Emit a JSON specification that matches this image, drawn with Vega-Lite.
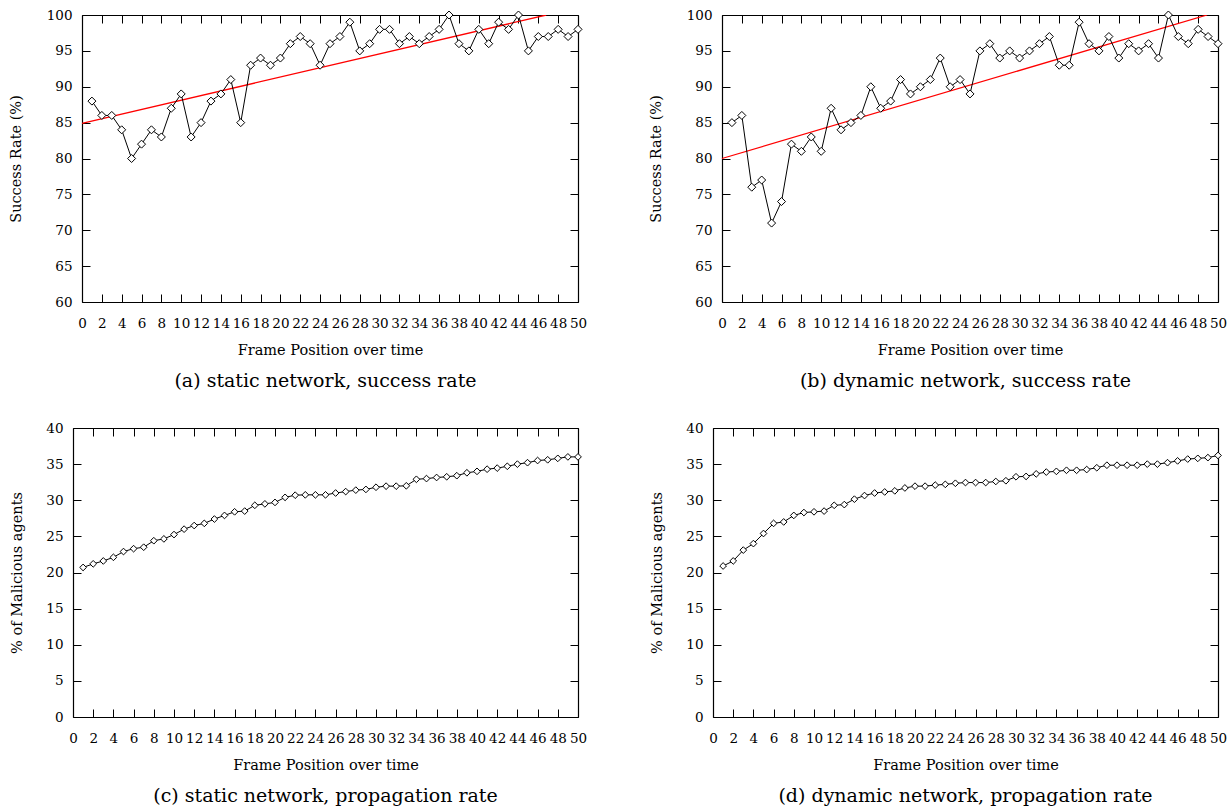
{
  "$schema": "https://vega.github.io/schema/vega-lite/v6.json",
  "padding": {"left": 8, "top": 8, "right": 2, "bottom": 0},
  "background": "white",
  "config": {
    "font": "DejaVu Serif",
    "view": {"stroke": null},
    "axis": {
      "grid": false,
      "domain": true,
      "domainColor": "black",
      "domainWidth": 1.2,
      "tickColor": "black",
      "tickWidth": 1,
      "tickSize": -8,
      "labelColor": "black",
      "labelFont": "DejaVu Serif",
      "labelFontSize": 13.5,
      "titleFont": "DejaVu Serif",
      "titleFontSize": 14.5,
      "titleFontWeight": "normal",
      "titleColor": "black",
      "labelOverlap": false,
      "labelFlush": false
    },
    "axisX": {"labelPadding": 22, "titlePadding": 14},
    "axisY": {"labelPadding": 18, "titlePadding": 21},
    "title": {"font": "DejaVu Serif", "fontSize": 19, "fontWeight": "normal", "color": "black"}
  },
  "datasets": {
    "a": [
      {"x":1,"y":88},{"x":2,"y":86},{"x":3,"y":86},{"x":4,"y":84},{"x":5,"y":80},{"x":6,"y":82},{"x":7,"y":84},{"x":8,"y":83},{"x":9,"y":87},{"x":10,"y":89},
      {"x":11,"y":83},{"x":12,"y":85},{"x":13,"y":88},{"x":14,"y":89},{"x":15,"y":91},{"x":16,"y":85},{"x":17,"y":93},{"x":18,"y":94},{"x":19,"y":93},{"x":20,"y":94},
      {"x":21,"y":96},{"x":22,"y":97},{"x":23,"y":96},{"x":24,"y":93},{"x":25,"y":96},{"x":26,"y":97},{"x":27,"y":99},{"x":28,"y":95},{"x":29,"y":96},{"x":30,"y":98},
      {"x":31,"y":98},{"x":32,"y":96},{"x":33,"y":97},{"x":34,"y":96},{"x":35,"y":97},{"x":36,"y":98},{"x":37,"y":100},{"x":38,"y":96},{"x":39,"y":95},{"x":40,"y":98},
      {"x":41,"y":96},{"x":42,"y":99},{"x":43,"y":98},{"x":44,"y":100},{"x":45,"y":95},{"x":46,"y":97},{"x":47,"y":97},{"x":48,"y":98},{"x":49,"y":97},{"x":50,"y":98}
    ],
    "b": [
      {"x":1,"y":85},{"x":2,"y":86},{"x":3,"y":76},{"x":4,"y":77},{"x":5,"y":71},{"x":6,"y":74},{"x":7,"y":82},{"x":8,"y":81},{"x":9,"y":83},{"x":10,"y":81},
      {"x":11,"y":87},{"x":12,"y":84},{"x":13,"y":85},{"x":14,"y":86},{"x":15,"y":90},{"x":16,"y":87},{"x":17,"y":88},{"x":18,"y":91},{"x":19,"y":89},{"x":20,"y":90},
      {"x":21,"y":91},{"x":22,"y":94},{"x":23,"y":90},{"x":24,"y":91},{"x":25,"y":89},{"x":26,"y":95},{"x":27,"y":96},{"x":28,"y":94},{"x":29,"y":95},{"x":30,"y":94},
      {"x":31,"y":95},{"x":32,"y":96},{"x":33,"y":97},{"x":34,"y":93},{"x":35,"y":93},{"x":36,"y":99},{"x":37,"y":96},{"x":38,"y":95},{"x":39,"y":97},{"x":40,"y":94},
      {"x":41,"y":96},{"x":42,"y":95},{"x":43,"y":96},{"x":44,"y":94},{"x":45,"y":100},{"x":46,"y":97},{"x":47,"y":96},{"x":48,"y":98},{"x":49,"y":97},{"x":50,"y":96}
    ],
    "c": [
      {"x":1,"y":20.7},{"x":2,"y":21.2},{"x":3,"y":21.6},{"x":4,"y":22.1},{"x":5,"y":22.9},{"x":6,"y":23.3},{"x":7,"y":23.5},{"x":8,"y":24.4},{"x":9,"y":24.65},{"x":10,"y":25.25},
      {"x":11,"y":26.0},{"x":12,"y":26.5},{"x":13,"y":26.8},{"x":14,"y":27.4},{"x":15,"y":27.9},{"x":16,"y":28.4},{"x":17,"y":28.5},{"x":18,"y":29.3},{"x":19,"y":29.5},{"x":20,"y":29.7},
      {"x":21,"y":30.4},{"x":22,"y":30.7},{"x":23,"y":30.75},{"x":24,"y":30.75},{"x":25,"y":30.75},{"x":26,"y":31.0},{"x":27,"y":31.2},{"x":28,"y":31.4},{"x":29,"y":31.5},{"x":30,"y":31.8},
      {"x":31,"y":31.95},{"x":32,"y":31.95},{"x":33,"y":32.0},{"x":34,"y":32.9},{"x":35,"y":33.0},{"x":36,"y":33.15},{"x":37,"y":33.25},{"x":38,"y":33.4},{"x":39,"y":33.8},{"x":40,"y":34.0},
      {"x":41,"y":34.3},{"x":42,"y":34.45},{"x":43,"y":34.7},{"x":44,"y":35.0},{"x":45,"y":35.2},{"x":46,"y":35.5},{"x":47,"y":35.6},{"x":48,"y":35.8},{"x":49,"y":36.0},{"x":50,"y":36.0}
    ],
    "d": [
      {"x":1,"y":20.9},{"x":2,"y":21.6},{"x":3,"y":23.1},{"x":4,"y":24.0},{"x":5,"y":25.4},{"x":6,"y":26.8},{"x":7,"y":27.0},{"x":8,"y":27.9},{"x":9,"y":28.3},{"x":10,"y":28.4},
      {"x":11,"y":28.5},{"x":12,"y":29.3},{"x":13,"y":29.4},{"x":14,"y":30.15},{"x":15,"y":30.65},{"x":16,"y":31.0},{"x":17,"y":31.15},{"x":18,"y":31.3},{"x":19,"y":31.7},{"x":20,"y":31.95},
      {"x":21,"y":31.95},{"x":22,"y":32.1},{"x":23,"y":32.2},{"x":24,"y":32.35},{"x":25,"y":32.45},{"x":26,"y":32.45},{"x":27,"y":32.45},{"x":28,"y":32.6},{"x":29,"y":32.7},{"x":30,"y":33.25},
      {"x":31,"y":33.3},{"x":32,"y":33.65},{"x":33,"y":33.9},{"x":34,"y":34.0},{"x":35,"y":34.15},{"x":36,"y":34.15},{"x":37,"y":34.25},{"x":38,"y":34.5},{"x":39,"y":34.85},{"x":40,"y":34.85},
      {"x":41,"y":34.85},{"x":42,"y":34.85},{"x":43,"y":35.0},{"x":44,"y":35.0},{"x":45,"y":35.2},{"x":46,"y":35.45},{"x":47,"y":35.7},{"x":48,"y":35.8},{"x":49,"y":35.9},{"x":50,"y":36.2}
    ],
    "ta": [{"x":0,"y":84.9},{"x":46.8,"y":100}],
    "tb": [{"x":0,"y":80.0},{"x":48.9,"y":100}]
  },
  "columns": 2,
  "align": "each",
  "spacing": {"row": 30, "column": 61},
  "concat": [
    {
      "width": 505, "height": 287,
      "title": {"text": "(a) static network, success rate", "orient": "bottom", "offset": 15},
      "layer": [
        {"data": {"name": "ta"}, "mark": {"type": "line", "color": "#ff0000", "strokeWidth": 1.3, "clip": true},
         "encoding": {
           "x": {"field": "x", "type": "quantitative", "scale": {"domain": [0, 50], "range": [9, 505], "nice": false}, "axis": {"orient": "bottom", "title": "Frame Position over time", "values": [0,2,4,6,8,10,12,14,16,18,20,22,24,26,28,30,32,34,36,38,40,42,44,46,48,50]}},
           "y": {"field": "y", "type": "quantitative", "scale": {"domain": [60, 100], "nice": false, "zero": false}, "axis": {"orient": "left", "offset": -9, "title": "Success Rate (%)", "titlePadding": 23, "values": [60,65,70,75,80,85,90,95,100]}}
         }},
        {"data": {"name": "a"}, "mark": {"type": "line", "color": "black", "strokeWidth": 1},
         "encoding": {
           "x": {"field": "x", "type": "quantitative", "axis": null},
           "y": {"field": "y", "type": "quantitative", "axis": null}
         }},
        {"data": {"name": "a"}, "mark": {"type": "point", "shape": "diamond", "filled": true, "fill": "white", "stroke": "black", "strokeWidth": 1, "size": 64, "opacity": 1},
         "encoding": {
           "x": {"field": "x", "type": "quantitative", "axis": {"orient": "top", "labels": false, "title": null, "values": [0,2,4,6,8,10,12,14,16,18,20,22,24,26,28,30,32,34,36,38,40,42,44,46,48,50]}},
           "y": {"field": "y", "type": "quantitative", "axis": {"orient": "right", "labels": false, "title": null, "values": [60,65,70,75,80,85,90,95,100]}}
         }}
      ],
      "resolve": {"axis": {"x": "independent", "y": "independent"}}
    },
    {
      "width": 505, "height": 287,
      "title": {"text": "(b) dynamic network, success rate", "orient": "bottom", "offset": 15},
      "layer": [
        {"data": {"name": "tb"}, "mark": {"type": "line", "color": "#ff0000", "strokeWidth": 1.3, "clip": true},
         "encoding": {
           "x": {"field": "x", "type": "quantitative", "scale": {"domain": [0, 50], "range": [9, 505], "nice": false}, "axis": {"orient": "bottom", "title": "Frame Position over time", "values": [0,2,4,6,8,10,12,14,16,18,20,22,24,26,28,30,32,34,36,38,40,42,44,46,48,50]}},
           "y": {"field": "y", "type": "quantitative", "scale": {"domain": [60, 100], "nice": false, "zero": false}, "axis": {"orient": "left", "offset": -9, "title": "Success Rate (%)", "titlePadding": 23, "values": [60,65,70,75,80,85,90,95,100]}}
         }},
        {"data": {"name": "b"}, "mark": {"type": "line", "color": "black", "strokeWidth": 1},
         "encoding": {
           "x": {"field": "x", "type": "quantitative", "axis": null},
           "y": {"field": "y", "type": "quantitative", "axis": null}
         }},
        {"data": {"name": "b"}, "mark": {"type": "point", "shape": "diamond", "filled": true, "fill": "white", "stroke": "black", "strokeWidth": 1, "size": 64, "opacity": 1},
         "encoding": {
           "x": {"field": "x", "type": "quantitative", "axis": {"orient": "top", "labels": false, "title": null, "values": [0,2,4,6,8,10,12,14,16,18,20,22,24,26,28,30,32,34,36,38,40,42,44,46,48,50]}},
           "y": {"field": "y", "type": "quantitative", "axis": {"orient": "right", "labels": false, "title": null, "values": [60,65,70,75,80,85,90,95,100]}}
         }}
      ],
      "resolve": {"axis": {"x": "independent", "y": "independent"}}
    },
    {
      "width": 505, "height": 289,
      "title": {"text": "(c) static network, propagation rate", "orient": "bottom", "offset": 15},
      "layer": [
        {"data": {"name": "c"}, "mark": {"type": "line", "color": "black", "strokeWidth": 1},
         "encoding": {
           "x": {"field": "x", "type": "quantitative", "scale": {"domain": [0, 50], "nice": false}, "axis": {"orient": "bottom", "title": "Frame Position over time", "values": [0,2,4,6,8,10,12,14,16,18,20,22,24,26,28,30,32,34,36,38,40,42,44,46,48,50]}},
           "y": {"field": "y", "type": "quantitative", "scale": {"domain": [0, 40], "nice": false}, "axis": {"orient": "left", "title": "% of Malicious agents", "values": [0,5,10,15,20,25,30,35,40]}}
         }},
        {"data": {"name": "c"}, "mark": {"type": "point", "shape": "diamond", "filled": true, "fill": "white", "stroke": "black", "strokeWidth": 1, "size": 45, "opacity": 1},
         "encoding": {
           "x": {"field": "x", "type": "quantitative", "axis": {"orient": "top", "labels": false, "title": null, "values": [0,2,4,6,8,10,12,14,16,18,20,22,24,26,28,30,32,34,36,38,40,42,44,46,48,50]}},
           "y": {"field": "y", "type": "quantitative", "axis": {"orient": "right", "labels": false, "title": null, "values": [0,5,10,15,20,25,30,35,40]}}
         }}
      ],
      "resolve": {"axis": {"x": "independent", "y": "independent"}}
    },
    {
      "width": 505, "height": 289,
      "title": {"text": "(d) dynamic network, propagation rate", "orient": "bottom", "offset": 15},
      "layer": [
        {"data": {"name": "d"}, "mark": {"type": "line", "color": "black", "strokeWidth": 1},
         "encoding": {
           "x": {"field": "x", "type": "quantitative", "scale": {"domain": [0, 50], "nice": false}, "axis": {"orient": "bottom", "title": "Frame Position over time", "values": [0,2,4,6,8,10,12,14,16,18,20,22,24,26,28,30,32,34,36,38,40,42,44,46,48,50]}},
           "y": {"field": "y", "type": "quantitative", "scale": {"domain": [0, 40], "nice": false}, "axis": {"orient": "left", "title": "% of Malicious agents", "values": [0,5,10,15,20,25,30,35,40]}}
         }},
        {"data": {"name": "d"}, "mark": {"type": "point", "shape": "diamond", "filled": true, "fill": "white", "stroke": "black", "strokeWidth": 1, "size": 45, "opacity": 1},
         "encoding": {
           "x": {"field": "x", "type": "quantitative", "axis": {"orient": "top", "labels": false, "title": null, "values": [0,2,4,6,8,10,12,14,16,18,20,22,24,26,28,30,32,34,36,38,40,42,44,46,48,50]}},
           "y": {"field": "y", "type": "quantitative", "axis": {"orient": "right", "labels": false, "title": null, "values": [0,5,10,15,20,25,30,35,40]}}
         }}
      ],
      "resolve": {"axis": {"x": "independent", "y": "independent"}}
    }
  ]
}
